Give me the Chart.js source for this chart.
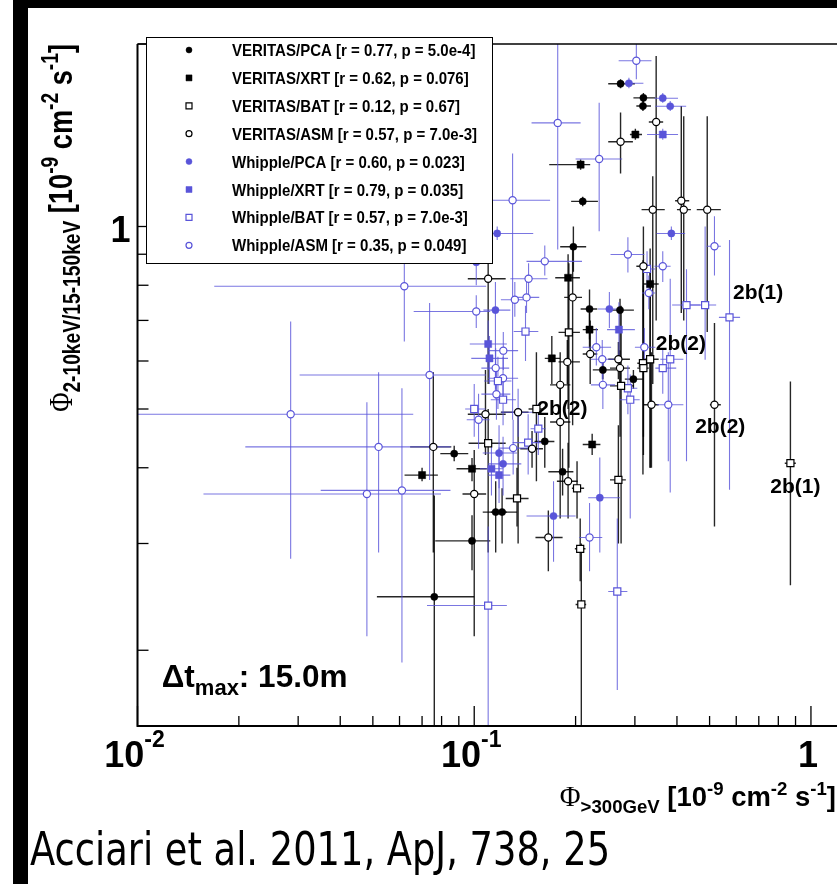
<!DOCTYPE html>
<html>
<head>
<meta charset="utf-8">
<script src="https://cdn.jsdelivr.net/npm/chart.js@4.4.1/dist/chart.umd.min.js"></script>
<style>
  html, body { margin: 0; padding: 0; background: #fff; overflow: hidden; }
  #wrap { position: relative; width: 837px; height: 884px; }
  #plot { position: absolute; left: 0; top: 0; }
  .bar { position: absolute; background: #000; }
  #cite { position: absolute; left: 30px; top: 826px; font-family: "DejaVu Sans", sans-serif; font-size: 46px; line-height: 1; white-space: nowrap; transform-origin: 0 0; transform: scaleX(0.8); color: #000; }
</style>
</head>
<body>
<div id="wrap">
  <canvas id="plot" width="837" height="884"></canvas>
  <div class="bar" style="left:13px;top:0;width:824px;height:8px"></div>
  <div class="bar" style="left:13px;top:0;width:15px;height:884px"></div>
  <div id="cite">Acciari et al. 2011, ApJ, 738, 25</div>
</div>
<script>
// each row: [x, y, xLow, xHigh, yLow, yHigh]
const veritasPca = [
  [0.272, 1.72, 0.25, 0.30, 1.69, 1.75],
  [0.318, 1.63, 0.297, 0.345, 1.60, 1.66],
  [0.317, 1.58, 0.303, 0.335, 1.55, 1.61],
  [0.210, 1.10, 0.194, 0.233, 1.08, 1.12],
  [0.197, 0.926, 0.18, 0.215, 0.842, 1.0],
  [0.220, 0.731, 0.207, 0.232, 0.651, 0.787],
  [0.271, 0.728, 0.253, 0.298, 0.45, 0.76],
  [0.241, 0.58, 0.225, 0.265, 0.56, 0.60],
  [0.297, 0.56, 0.28, 0.318, 0.54, 0.58],
  [0.162, 0.442, 0.151, 0.173, 0.40, 0.485],
  [0.0872, 0.422, 0.0793, 0.096, 0.41, 0.435],
  [0.183, 0.394, 0.166, 0.197, 0.36, 0.43],
  [0.1158, 0.338, 0.106, 0.125, 0.29, 0.38],
  [0.121, 0.338, 0.112, 0.134, 0.30, 0.37],
  [0.0985, 0.303, 0.0766, 0.1116, 0.271, 0.334],
  [0.0761, 0.245, 0.0514, 0.10, 0.14, 0.36]
];
const veritasXrt = [
  [0.301, 1.418, 0.29, 0.315, 1.39, 1.45],
  [0.207, 1.265, 0.167, 0.221, 1.24, 1.29],
  [0.19, 0.823, 0.174, 0.206, 0.5, 0.9],
  [0.333, 0.804, 0.317, 0.353, 0.40, 0.92],
  [0.22, 0.676, 0.21, 0.233, 0.63, 0.72],
  [0.17, 0.606, 0.162, 0.18, 0.55, 0.66],
  [0.224, 0.437, 0.21, 0.237, 0.42, 0.455],
  [0.0985, 0.3985, 0.0886, 0.109, 0.38, 0.415],
  [0.07, 0.389, 0.0621, 0.078, 0.38, 0.40]
];
const veritasBat = [
  [0.191, 0.669, 0.178, 0.206, 0.40, 0.87],
  [0.333, 0.604, 0.317, 0.353, 0.40, 0.85],
  [0.317, 0.595, 0.305, 0.33, 0.39, 0.88],
  [0.318, 0.584, 0.305, 0.33, 0.42, 0.80],
  [0.273, 0.546, 0.253, 0.298, 0.30, 0.74],
  [0.153, 0.50, 0.145, 0.16, 0.38, 0.62],
  [0.110, 0.439, 0.0962, 0.124, 0.29, 0.50],
  [0.268, 0.382, 0.253, 0.282, 0.30, 0.47],
  [0.202, 0.37, 0.195, 0.212, 0.33, 0.41],
  [0.134, 0.356, 0.124, 0.145, 0.32, 0.40],
  [0.2064, 0.294, 0.199, 0.214, 0.26, 0.33],
  [0.208, 0.238, 0.20, 0.215, 0.14, 0.30],
  [0.869, 0.407, 0.836, 0.902, 0.256, 0.555]
];
const veritasAsm = [
  [0.347, 1.487, 0.33, 0.364, 0.70, 1.91],
  [0.272, 1.38, 0.25, 0.296, 1.223, 1.542],
  [0.412, 1.103, 0.395, 0.435, 0.72, 1.58],
  [0.339, 1.066, 0.314, 0.368, 0.55, 1.21],
  [0.419, 1.066, 0.40, 0.44, 0.70, 1.52],
  [0.492, 1.066, 0.458, 0.54, 0.67, 1.52],
  [0.110, 0.82, 0.0957, 0.124, 0.55, 0.93],
  [0.196, 0.764, 0.185, 0.209, 0.47, 0.92],
  [0.318, 0.86, 0.303, 0.33, 0.45, 1.0],
  [0.221, 0.616, 0.21, 0.232, 0.55, 0.70],
  [0.189, 0.598, 0.178, 0.206, 0.55, 0.65],
  [0.268, 0.604, 0.25, 0.29, 0.56, 0.645],
  [0.271, 0.584, 0.253, 0.29, 0.545, 0.625],
  [0.18, 0.548, 0.168, 0.193, 0.47, 0.62],
  [0.18, 0.476, 0.168, 0.193, 0.33, 0.55],
  [0.336, 0.508, 0.318, 0.353, 0.40, 0.62],
  [0.517, 0.508, 0.501, 0.54, 0.32, 0.693],
  [0.108, 0.49, 0.0957, 0.124, 0.42, 0.58],
  [0.135, 0.494, 0.12, 0.145, 0.30, 0.50],
  [0.1485, 0.43, 0.137, 0.16, 0.40, 0.46],
  [0.19, 0.38, 0.176, 0.203, 0.33, 0.44],
  [0.10, 0.362, 0.0923, 0.1085, 0.211, 0.428],
  [0.166, 0.307, 0.152, 0.183, 0.27, 0.34],
  [0.0756, 0.433, 0.0645, 0.0855, 0.29, 0.575]
];
const whipplePca = [
  [0.288, 1.723, 0.271, 0.318, 1.69, 1.76],
  [0.363, 1.628, 0.343, 0.403, 1.60, 1.66],
  [0.382, 1.579, 0.345, 0.426, 1.55, 1.61],
  [0.117, 0.974, 0.1116, 0.1497, 0.95, 1.0],
  [0.385, 0.974, 0.348, 0.423, 0.95, 1.0],
  [0.1014, 0.873, 0.0676, 0.112, 0.80, 0.95],
  [0.1156, 0.728, 0.1065, 0.128, 0.52, 0.81],
  [0.252, 0.731, 0.233, 0.27, 0.68, 0.78],
  [0.1185, 0.423, 0.106, 0.134, 0.37, 0.47],
  [0.1218, 0.406, 0.11, 0.138, 0.36, 0.45],
  [0.236, 0.357, 0.218, 0.271, 0.29, 0.416],
  [0.172, 0.333, 0.143, 0.20, 0.28, 0.38]
];
const whippleXrt = [
  [0.363, 1.418, 0.326, 0.403, 1.39, 1.45],
  [0.269, 0.676, 0.248, 0.30, 0.60, 0.75],
  [0.11, 0.64, 0.097, 0.125, 0.58, 0.70],
  [0.111, 0.606, 0.098, 0.126, 0.55, 0.66],
  [0.1125, 0.3985, 0.104, 0.122, 0.36, 0.44],
  [0.1185, 0.389, 0.11, 0.128, 0.35, 0.43]
];
const whippleBat = [
  [0.326, 0.851, 0.31, 0.345, 0.79, 0.91],
  [0.427, 0.742, 0.387, 0.469, 0.41, 0.85],
  [0.485, 0.742, 0.438, 0.523, 0.603, 1.0],
  [0.573, 0.708, 0.533, 0.616, 0.368, 0.95],
  [0.142, 0.671, 0.131, 0.155, 0.60, 0.74],
  [0.382, 0.604, 0.357, 0.418, 0.364, 0.82],
  [0.363, 0.584, 0.345, 0.398, 0.53, 0.63],
  [0.1176, 0.556, 0.107, 0.129, 0.50, 0.61],
  [0.286, 0.541, 0.268, 0.305, 0.49, 0.59],
  [0.1218, 0.518, 0.112, 0.133, 0.47, 0.57],
  [0.2906, 0.518, 0.27, 0.31, 0.33, 0.57],
  [0.10, 0.50, 0.094, 0.108, 0.45, 0.55],
  [0.155, 0.464, 0.147, 0.163, 0.42, 0.51],
  [0.1446, 0.44, 0.13, 0.158, 0.39, 0.49],
  [0.11, 0.237, 0.0724, 0.125, 0.14, 0.32],
  [0.266, 0.25, 0.25, 0.285, 0.172, 0.33]
];
const whippleAsm = [
  [0.303, 1.877, 0.2685, 0.336, 1.75, 2.1],
  [0.177, 1.482, 0.148, 0.207, 0.916, 2.1],
  [0.235, 1.292, 0.20, 0.275, 0.982, 1.60],
  [0.13, 1.105, 0.113, 0.168, 0.48, 1.32],
  [0.286, 0.899, 0.254, 0.32, 0.84, 0.96],
  [0.517, 0.928, 0.49, 0.54, 0.83, 1.04],
  [0.062, 0.797, 0.0169, 0.1085, 0.646, 0.885],
  [0.162, 0.876, 0.143, 0.209, 0.83, 0.93],
  [0.145, 0.82, 0.128, 0.165, 0.77, 0.87],
  [0.1014, 0.724, 0.0661, 0.1116, 0.68, 0.77],
  [0.132, 0.757, 0.12, 0.145, 0.71, 0.81],
  [0.143, 0.764, 0.131, 0.156, 0.72, 0.81],
  [0.122, 0.624, 0.11, 0.135, 0.58, 0.67],
  [0.2305, 0.632, 0.21, 0.255, 0.59, 0.68],
  [0.32, 0.632, 0.30, 0.345, 0.59, 0.68],
  [0.363, 0.86, 0.343, 0.383, 0.81, 0.91],
  [0.33, 0.777, 0.315, 0.345, 0.73, 0.83],
  [0.24, 0.604, 0.222, 0.26, 0.56, 0.65],
  [0.1158, 0.584, 0.105, 0.127, 0.54, 0.63],
  [0.1218, 0.562, 0.11, 0.135, 0.52, 0.61],
  [0.241, 0.548, 0.222, 0.262, 0.50, 0.60],
  [0.1164, 0.529, 0.105, 0.128, 0.48, 0.58],
  [0.377, 0.508, 0.349, 0.418, 0.41, 0.62],
  [0.135, 0.494, 0.12, 0.15, 0.45, 0.54],
  [0.103, 0.48, 0.095, 0.111, 0.43, 0.53],
  [0.1305, 0.431, 0.118, 0.145, 0.39, 0.48],
  [0.0737, 0.569, 0.0303, 0.1085, 0.382, 0.748],
  [0.0285, 0.49, 0.0099, 0.0659, 0.283, 0.697],
  [0.052, 0.433, 0.0209, 0.085, 0.29, 0.575],
  [0.048, 0.362, 0.0157, 0.0797, 0.211, 0.513],
  [0.061, 0.367, 0.035, 0.085, 0.191, 0.541],
  [0.22, 0.307, 0.205, 0.24, 0.27, 0.35]
];

const legendLabels = [
  'VERITAS/PCA [r = 0.77, p = 5.0e-4]',
  'VERITAS/XRT [r = 0.62, p = 0.076]',
  'VERITAS/BAT [r = 0.12, p = 0.67]',
  'VERITAS/ASM [r = 0.57, p = 7.0e-3]',
  'Whipple/PCA [r = 0.60, p = 0.023]',
  'Whipple/XRT [r = 0.79, p = 0.035]',
  'Whipple/BAT [r = 0.57, p = 7.0e-3]',
  'Whipple/ASM [r = 0.35, p = 0.049]'
];

// axes
const xMin = 0.01, xMax = 1.195, yMin = 0.15, yMax = 2.0;
const xTicks = [0.01, 0.02, 0.03, 0.04, 0.05, 0.06, 0.07, 0.08, 0.09, 0.1, 0.2, 0.3, 0.4, 0.5, 0.6, 0.7, 0.8, 0.9, 1];
const xLabelValues = [0.01, 0.1, 1];
const xLabelBase = ['10', '10', '1'];
const xLabelExp = ['-2', '-1', ''];
const yTicks = [0.2, 0.3, 0.4, 0.5, 0.6, 0.7, 0.8, 0.9, 1, 2];
const yLabelValues = [1];
const yLabelText = ['1'];

// annotations (data coordinates, left/baseline)
const noteTexts = ['2b(1)', '2b(2)', '2b(2)', '2b(2)', '2b(1)'];
const noteX = [0.587, 0.346, 0.154, 0.453, 0.757];
const noteY = [0.758, 0.626, 0.489, 0.457, 0.363];
const dtX = 0.0118, dtY = 0.1737;

const BLACK = '#000';
const BLUE = 'rgb(89,84,217)';
const SANS = '"Liberation Sans", Arial, Helvetica, sans-serif';

const series = [
  { rows: veritasPca, color: BLACK, shape: 'circle', open: false },
  { rows: veritasXrt, color: BLACK, shape: 'rect', open: false },
  { rows: veritasBat, color: BLACK, shape: 'rect', open: true },
  { rows: veritasAsm, color: BLACK, shape: 'circle', open: true },
  { rows: whipplePca, color: BLUE, shape: 'circle', open: false },
  { rows: whippleXrt, color: BLUE, shape: 'rect', open: false },
  { rows: whippleBat, color: BLUE, shape: 'rect', open: true },
  { rows: whippleAsm, color: BLUE, shape: 'circle', open: true }
];

// draw text made of runs [text, size, dy, family, bold], compressed by sx
let drawRich = (ctx, runs, x, y, align, sx) => {
  sx = sx || 1;
  let fontOf = r => (r[4] === false ? '' : 'bold ') + r[1] + 'px ' + (r[3] || SANS);
  let w = 0;
  runs.forEach(r => { ctx.font = fontOf(r); w += ctx.measureText(r[0]).width; });
  ctx.save();
  ctx.translate(x, y);
  ctx.scale(sx, 1);
  let cx = align === 'right' ? -w : align === 'center' ? -w / 2 : 0;
  ctx.textAlign = 'left';
  ctx.textBaseline = 'alphabetic';
  runs.forEach(r => {
    ctx.font = fontOf(r);
    ctx.fillText(r[0], cx, r[2]);
    cx += ctx.measureText(r[0]).width;
  });
  ctx.restore();
};

let drawMarker = (ctx, s, x, y, r) => {
  ctx.beginPath();
  if (s.shape === 'circle') {
    ctx.arc(x, y, r, 0, Math.PI * 2);
  } else {
    ctx.rect(x - r, y - r, 2 * r, 2 * r);
  }
  ctx.fillStyle = s.open ? '#fff' : s.color;
  ctx.fill();
  ctx.lineWidth = s.open ? 1.2 : 0.5;
  ctx.strokeStyle = s.color;
  ctx.stroke();
};

const errorBars = {
  id: 'errorBars',
  beforeDatasetsDraw(chart) {
    const { ctx, chartArea: a, scales: { x, y } } = chart;
    ctx.save();
    ctx.beginPath();
    ctx.rect(a.left, a.top, a.right - a.left, a.bottom - a.top);
    ctx.clip();
    chart.data.datasets.forEach(ds => {
      ctx.strokeStyle = ds.errColor;
      ctx.lineWidth = ds.errWidth;
      ds.rows.forEach(r => {
        const px = x.getPixelForValue(r[0]);
        const py = y.getPixelForValue(r[1]);
        ctx.beginPath();
        ctx.moveTo(x.getPixelForValue(r[2]), py);
        ctx.lineTo(x.getPixelForValue(r[3]), py);
        ctx.moveTo(px, y.getPixelForValue(r[4]));
        ctx.lineTo(px, y.getPixelForValue(r[5]));
        ctx.stroke();
      });
    });
    ctx.restore();
  }
};

const decorations = {
  id: 'decorations',
  afterDraw(chart) {
    const { ctx, chartArea: a, scales: { x, y } } = chart;
    ctx.save();
    // frame
    ctx.strokeStyle = '#000';
    ctx.lineWidth = 1.5;
    ctx.beginPath();
    ctx.moveTo(a.left, a.top);
    ctx.lineTo(a.right, a.top);
    ctx.stroke();
    ctx.lineWidth = 2;
    ctx.beginPath();
    ctx.moveTo(a.left, a.top);
    ctx.lineTo(a.left, a.bottom);
    ctx.lineTo(a.right, a.bottom);
    ctx.stroke();

    // inward ticks
    ctx.lineWidth = 1.3;
    xTicks.forEach(v => {
      const px = x.getPixelForValue(v);
      const len = xLabelValues.includes(v) ? 20 : 10;
      ctx.beginPath();
      ctx.moveTo(px, a.bottom);
      ctx.lineTo(px, a.bottom - len);
      ctx.stroke();
    });
    yTicks.forEach(v => {
      const py = y.getPixelForValue(v);
      if (py < a.top || py > a.bottom) return;
      ctx.beginPath();
      ctx.moveTo(a.left, py);
      ctx.lineTo(a.left + 11, py);
      ctx.stroke();
    });

    // tick labels
    ctx.fillStyle = '#000';
    xLabelValues.forEach((v, i) => {
      const runs = [[xLabelBase[i], 36, 0]];
      if (xLabelExp[i]) runs.push([xLabelExp[i], 23, -20]);
      drawRich(ctx, runs, x.getPixelForValue(v) - 3, a.bottom + 41, 'center');
    });
    yLabelValues.forEach((v, i) => {
      drawRich(ctx, [[yLabelText[i], 36, 0]], a.left - 7, y.getPixelForValue(v) + 15, 'right');
    });

    // axis titles
    drawRich(ctx, [
      ['\u03A6', 29, 0, '"Liberation Serif", serif', false],
      ['>300GeV', 19, 7],
      [' [10', 28, 0], ['-9', 19, -11],
      [' cm', 28, 0], ['-2', 19, -11],
      [' s', 28, 0], ['-1', 19, -11],
      [']', 28, 0]
    ], 836, 806, 'right', 0.98);

    ctx.save();
    ctx.translate(72, 44);
    ctx.rotate(-Math.PI / 2);
    drawRich(ctx, [
      ['\u03A6', 33, 0, '"Liberation Serif", serif', false],
      ['2-10keV/15-150keV', 24, 8],
      [' [10', 34, 0], ['-9', 24, -14],
      [' cm', 34, 0], ['-2', 24, -14],
      [' s', 34, 0], ['-1', 24, -14],
      [']', 34, 0]
    ], 0, 0, 'right', 0.8);
    ctx.restore();

    // annotations
    noteTexts.forEach((t, i) => {
      drawRich(ctx, [[t, 21, 0]], x.getPixelForValue(noteX[i]), y.getPixelForValue(noteY[i]), 'left');
    });
    drawRich(ctx, [
      ['\u0394', 31.5, 0, '"Liberation Sans", sans-serif', true],
      ['t', 31.5, 0], ['max', 22, 8], [': 15.0m', 31.5, 0]
    ], x.getPixelForValue(dtX), y.getPixelForValue(dtY), 'left');

    // legend box
    const lx = a.left + 8.5, ly = a.top - 7, lw = 346, lh = 226;
    ctx.fillStyle = '#fff';
    ctx.fillRect(lx, ly, lw, lh);
    ctx.strokeStyle = '#000';
    ctx.lineWidth = 1;
    ctx.strokeRect(Math.round(lx) + 0.5, Math.round(ly) + 0.5, lw, lh);
    series.forEach((s, i) => {
      const cy = ly + 13 + i * 27.9;
      drawMarker(ctx, s, lx + 43, cy, 3);
      ctx.fillStyle = '#000';
      drawRich(ctx, [[legendLabels[i], 16.5, 0]], lx + 86, cy + 6, 'left', 0.91);
    });
    ctx.restore();
  }
};

let config = {
  type: 'scatter',
  data: {
    datasets: series.map((s, i) => ({
      label: legendLabels[i],
      data: s.rows.map(r => ({ x: r[0], y: r[1] })),
      rows: s.rows,
      pointStyle: s.shape,
      pointRadius: s.shape === 'rect' ? 5 : 3.6,
      pointBackgroundColor: s.open ? '#fff' : s.color,
      pointBorderColor: s.color,
      pointBorderWidth: s.open ? 1.2 : 0.5,
      errColor: s.color === BLUE ? 'rgba(89,84,217,0.8)' : 'rgba(0,0,0,0.85)',
      errWidth: s.color === BLUE ? 1.1 : 1.4
    }))
  },
  options: {
    responsive: false,
    animation: false,
    devicePixelRatio: 1,
    events: [],
    layout: { autoPadding: false, padding: { left: 137.5, top: 44, right: 0, bottom: 158 } },
    plugins: { legend: { display: false }, tooltip: { enabled: false } },
    scales: {
      x: { type: 'logarithmic', min: xMin, max: xMax, display: false },
      y: { type: 'logarithmic', min: yMin, max: yMax, display: false }
    }
  },
  plugins: [errorBars, decorations]
};

new Chart(document.getElementById('plot'), config);
</script>
</body>
</html>
